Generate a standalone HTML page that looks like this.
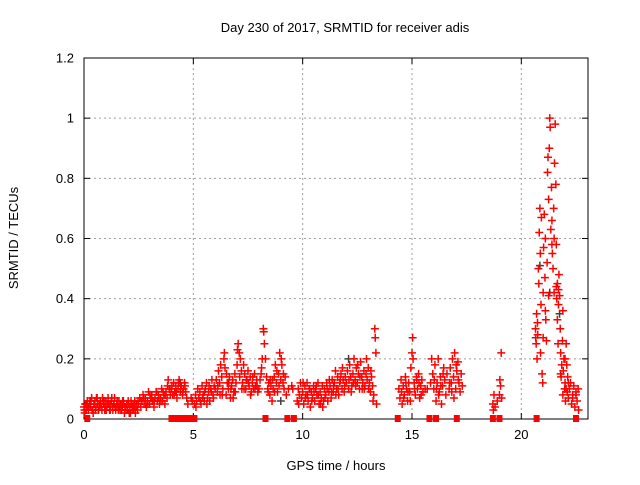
<!DOCTYPE html>
<html><head><meta charset="utf-8"><style>
body{margin:0;background:#fff;}
svg text{font-family:"Liberation Sans",sans-serif;font-size:13px;fill:#000;}
</style></head><body>
<svg id="chart" width="640" height="480" viewBox="0 0 640 480" xmlns="http://www.w3.org/2000/svg">
<rect width="640" height="480" fill="#fff"/>
<text x="345" y="32" text-anchor="middle">Day 230 of 2017, SRMTID for receiver adis</text>
<text x="336" y="470" text-anchor="middle">GPS time / hours</text>
<text transform="translate(18,238) rotate(-90)" text-anchor="middle">SRMTID / TECUs</text>
<g id="grid"></g><g id="axes"></g><g id="marks"></g>
</svg>
<script>
const xTicks=[0,5,10,15,20];
const yTicks=[0,0.2,0.4,0.6,0.8,1,1.2];
const yTickLabels=["0","0.2","0.4","0.6","0.8","1","1.2"];
const redTimes=[0,0.03,0.06,0.1,0.15,0.2,0.25,0.3,0.35,0.4,0.45,0.5,0.55,0.6,0.65,0.7,0.75,0.8,0.85,0.9,0.95,1.0,1.05,1.1,1.15,1.2,1.25,1.3,1.35,1.4,1.45,1.5,1.55,1.6,1.65,1.7,1.75,1.8,1.85,1.9,1.95,2.0,2.05,2.1,2.15,2.2,2.25,2.3,2.35,2.4,2.45,
0.02,0.12,0.22,0.32,0.42,0.52,0.62,0.72,0.82,0.92,1.02,1.12,1.22,1.32,1.42,1.52,1.62,1.72,1.82,1.92,2.02,2.12,2.22,2.32,2.42,
0.07,0.17,0.27,0.37,0.47,0.57,0.67,0.77,0.87,0.97,1.07,1.17,1.27,1.37,1.47,1.57,1.67,1.77,1.87,1.97,2.07,2.17,2.27,2.37,2.47,
2.5,2.55,2.6,2.65,2.7,2.75,2.8,2.85,2.9,2.95,3.0,3.05,3.1,3.15,3.2,3.25,3.3,3.35,3.4,3.45,3.5,3.55,3.6,3.65,3.7,3.75,3.8,3.85,3.9,3.95,2.62,2.82,3.02,3.22,3.42,3.62,3.82,2.72,2.92,3.12,3.32,3.52,3.72,3.92,
4.0,4.05,4.1,4.15,4.2,4.25,4.3,4.35,4.4,4.45,4.5,4.55,4.6,4.65,4.7,4.75,4.9,4.95,4.02,4.22,4.42,4.62,4.12,4.32,4.52,
5.05,5.1,5.15,5.2,5.25,5.3,5.35,5.4,5.45,5.5,5.55,5.6,5.65,5.7,5.75,5.8,5.85,5.9,5.95,5.12,5.32,5.52,5.72,5.92,5.42,5.62,5.82,
6.0,6.05,6.1,6.15,6.2,6.25,6.3,6.35,6.4,6.45,6.5,6.55,6.6,6.65,6.7,6.75,6.8,6.85,6.9,6.95,7.0,7.05,7.1,7.15,7.2,7.25,7.3,7.35,7.4,7.45,7.5,7.55,7.6,7.65,7.7,7.75,7.8,7.85,7.9,7.95,6.12,6.32,6.52,6.72,6.92,7.12,7.32,7.52,7.72,7.92,6.42,7.02,6.22,6.62,6.82,7.22,7.42,7.62,7.82,
8.0,8.05,8.1,8.15,8.2,8.22,8.25,8.3,8.35,8.4,8.45,8.5,8.55,8.6,8.65,8.7,8.75,8.8,8.85,8.9,8.95,9.0,9.05,9.1,9.15,9.2,9.25,9.35,9.5,9.55,8.12,8.42,8.62,8.82,9.02,9.12,8.52,8.72,8.92,
9.75,9.8,9.85,9.9,9.95,10.0,10.05,10.1,10.15,10.2,10.25,10.3,10.35,10.4,10.45,10.5,10.55,10.6,10.65,10.7,10.75,10.8,10.85,10.9,10.95,11.0,11.05,11.1,11.15,11.2,11.25,11.3,11.35,11.4,11.45,11.5,11.55,11.6,11.65,11.7,11.75,11.8,11.85,11.9,11.95,9.82,10.02,10.22,10.42,10.62,10.82,11.02,11.22,11.42,11.62,11.82,10.12,10.32,10.52,10.72,10.92,11.12,11.32,11.52,11.72,11.92,
12.0,12.05,12.1,12.15,12.2,12.25,12.3,12.35,12.4,12.45,12.5,12.55,12.6,12.65,12.7,12.75,12.8,12.85,12.9,12.95,13.0,13.05,13.1,13.15,13.2,13.25,13.3,13.32,13.35,13.38,12.12,12.32,12.52,12.72,12.92,13.12,13.22,12.22,12.42,12.62,12.82,13.02,
14.4,14.45,14.5,14.55,14.6,14.65,14.7,14.75,14.8,14.85,14.9,14.95,15.0,15.03,15.05,15.1,15.15,15.2,15.25,15.3,15.35,15.4,15.45,15.5,15.6,15.7,15.85,15.9,15.95,16.0,16.05,16.1,16.15,16.2,16.25,16.3,16.35,16.4,16.45,16.5,16.55,16.6,16.7,16.75,16.8,16.85,16.9,16.95,17.0,17.05,17.1,17.15,17.2,17.25,17.3,14.52,14.72,14.92,15.12,15.32,16.02,16.22,16.42,16.82,17.02,14.62,14.82,15.22,15.42,16.12,16.32,16.72,16.92,17.12,
18.7,18.75,18.72,18.8,18.9,19.0,19.05,19.02,19.08,19.1,
20.65,20.68,20.7,20.72,20.75,20.78,20.8,20.82,20.85,20.87,20.9,20.92,20.95,20.98,21.0,21.02,21.05,21.08,21.1,21.12,21.15,21.18,21.2,21.22,21.25,21.28,21.3,21.32,21.35,21.38,21.4,21.42,21.45,21.48,21.5,21.52,21.55,21.58,21.6,21.62,21.65,21.68,21.7,21.72,21.75,21.78,21.8,21.82,21.85,21.88,21.9,21.92,21.95,21.98,22.0,22.02,22.05,22.08,22.1,22.12,22.15,22.2,22.25,22.3,22.35,22.4,22.45,22.5,22.55,22.6,22.62,20.88,21.0,21.1,21.25,21.4,21.6,21.7,21.9,22.0,20.66,20.74,21.5,21.65,21.8,22.05,22.15,22.35,22.5];
const redValues=[.04,.02,.05,.03,.06,.03,.05,.04,.07,.03,.05,.06,.04,.07,.03,.05,.06,.04,.07,.05,.03,.06,.04,.07,.05,.03,.06,.04,.05,.07,.03,.05,.04,.06,.03,.05,.04,.06,.02,.04,.05,.03,.05,.04,.06,.03,.05,.04,.02,.05,.03,
.03,.05,.04,.06,.02,.03,.05,.04,.03,.06,.03,.05,.05,.03,.04,.06,.04,.03,.05,.03,.06,.02,.04,.06,.04,
.05,.04,.06,.03,.05,.07,.03,.05,.06,.04,.05,.03,.07,.05,.04,.03,.05,.06,.04,.05,.02,.05,.03,.04,.06,
.05,.07,.04,.06,.08,.05,.07,.04,.06,.09,.05,.07,.08,.06,.04,.07,.09,.06,.08,.05,.07,.1,.06,.08,.05,.09,.07,.13,.1,.08,.06,.05,.08,.06,.07,.09,.11,.07,.05,.06,.09,.06,.08,.1,
.1,.08,.12,.09,.11,.07,.1,.13,.09,.11,.08,.1,.12,.09,.07,.05,.07,.06,.11,.09,.1,.11,.08,.12,.09,
.05,.08,.06,.1,.07,.09,.05,.11,.08,.06,.1,.12,.07,.09,.06,.1,.13,.08,.11,.04,.06,.09,.11,.07,.07,.05,.09,
.1,.13,.09,.16,.12,.18,.14,.1,.2,.17,.08,.12,.1,.14,.07,.11,.13,.09,.15,.12,.18,.25,.22,.2,.16,.12,.18,.15,.1,.13,.16,.11,.14,.09,.12,.1,.15,.11,.13,.09,.11,.08,.15,.1,.09,.14,.1,.12,.14,.11,.22,.23,.08,.12,.07,.1,.13,.08,.1,
.1,.13,.15,.2,.3,.29,.25,.2,.14,.1,.12,.08,.11,.06,.1,.14,.18,.12,.09,.15,.22,.13,.18,.12,.1,.14,.08,.1,.11,.1,.17,.09,.13,.16,.2,.15,.13,.09,.11,
.06,.1,.08,.12,.07,.09,.05,.11,.08,.12,.06,.1,.04,.09,.07,.11,.06,.1,.08,.12,.05,.09,.07,.11,.06,.1,.08,.12,.06,.09,.11,.07,.13,.09,.12,.16,.1,.14,.08,.12,.15,.1,.13,.09,.14,.05,.12,.08,.06,.11,.05,.07,.13,.11,.1,.17,.07,.1,.09,.08,.04,.1,.09,.08,.13,.11,
.12,.16,.1,.18,.14,.11,.15,.2,.13,.17,.12,.15,.1,.19,.14,.12,.16,.11,.15,.13,.17,.12,.09,.14,.11,.08,.3,.27,.22,.05,.13,.12,.18,.1,.2,.16,.06,.09,.11,.14,.1,.1,
.1,.07,.13,.05,.11,.08,.14,.1,.06,.12,.09,.17,.22,.27,.2,.12,.08,.14,.1,.15,.07,.11,.13,.09,.1,.1,.12,.2,.15,.1,.18,.06,.12,.2,.09,.14,.05,.11,.17,.13,.08,.15,.1,.17,.12,.2,.14,.22,.1,.16,.19,.12,.09,.15,.11,.09,.12,.06,.1,.12,.13,.08,.15,.09,.18,.07,.09,.13,.08,.1,.11,.12,.07,.13,
.05,.08,.03,.04,.06,.08,.11,.13,.22,.07,
.3,.25,.35,.2,.28,.5,.45,.62,.7,.55,.38,.67,.15,.12,.42,.57,.68,.47,.6,.33,.26,.52,.82,.87,.73,.9,1.0,.97,.63,.77,.58,.55,.5,.7,.6,.85,.98,.78,.44,.4,.33,.25,.38,.48,.41,.3,.22,.14,.18,.26,.08,.16,.2,.1,.12,.06,.25,.18,.09,.14,.07,.1,.12,.05,.08,.11,.04,.09,.06,.1,.03,.22,.27,.36,.41,.66,.58,.43,.36,.2,.27,.32,.42,.45,.15,.1,.12,.07,.08];
const grayTimes=[4.4,9.0,12.1,20.85,21.3,21.75,0.1];
const grayValues=[.12,.06,.2,.51,.42,.35,.05];
const gapTimes=[0.15,4.0,4.15,4.3,4.45,4.6,4.75,4.9,5.05,8.3,9.3,9.6,14.35,15.8,16.1,17.05,18.7,19.0,20.7,22.5];

const L=84,R=588,T=58,B=419,XMAX=23.05,YMAX=1.2;
const sx=h=>L+h*(R-L)/XMAX, sy=v=>B-v*(B-T)/YMAX;
const NS="http://www.w3.org/2000/svg";
function mk(tag,parent){const e=document.createElementNS(NS,tag);parent.appendChild(e);return e;}
const grid=document.getElementById('grid'),axes=document.getElementById('axes'),marks=document.getElementById('marks');
yTicks.forEach((v,i)=>{
  const y=sy(v);
  if(v>0&&v<YMAX){const g=mk('line',grid);g.setAttribute('x1',L);g.setAttribute('x2',R);g.setAttribute('y1',y);g.setAttribute('y2',y);g.setAttribute('stroke','#a0a0a0');g.setAttribute('stroke-dasharray','2,3');
  
  }
  const t=mk('text',axes);t.setAttribute('x',L-10);t.setAttribute('y',y+4.5);t.setAttribute('text-anchor','end');t.textContent=yTickLabels[i];
  
  
  const k=mk('line',axes);k.setAttribute('x1',L);k.setAttribute('x2',L+6);k.setAttribute('y1',y);k.setAttribute('y2',y);k.setAttribute('stroke','#000');
  const k2=mk('line',axes);k2.setAttribute('x1',R);k2.setAttribute('x2',R-6);k2.setAttribute('y1',y);k2.setAttribute('y2',y);k2.setAttribute('stroke','#000');
});
xTicks.forEach(h=>{
  const x=sx(h);
  if(h>0){const g=mk('line',grid);g.setAttribute('x1',x);g.setAttribute('x2',x);g.setAttribute('y1',T);g.setAttribute('y2',B);g.setAttribute('stroke','#a0a0a0');g.setAttribute('stroke-dasharray','2,3');
  
  }
  const t=mk('text',axes);t.setAttribute('x',x);t.setAttribute('y',B+20);t.setAttribute('text-anchor','middle');t.textContent=String(h);
  
  
  const k=mk('line',axes);k.setAttribute('x1',x);k.setAttribute('x2',x);k.setAttribute('y1',B);k.setAttribute('y2',B-6);k.setAttribute('stroke','#000');
  const k2=mk('line',axes);k2.setAttribute('x1',x);k2.setAttribute('x2',x);k2.setAttribute('y1',T);k2.setAttribute('y2',T+6);k2.setAttribute('stroke','#000');
});
const fr=mk('rect',axes);fr.setAttribute('x',L);fr.setAttribute('y',T);fr.setAttribute('width',R-L);fr.setAttribute('height',B-T);fr.setAttribute('fill','none');fr.setAttribute('stroke','#000');


function cross(h,v,col,name){
  const x=sx(h),y=sy(v);
  const p=mk('path',marks);p.setAttribute('d',`M${x-4},${y}H${x+4}M${x},${y-4}V${y+4}`);p.setAttribute('stroke',col);p.setAttribute('stroke-width','1.5');
  
  
}
grayTimes.forEach((h,i)=>cross(h,grayValues[i],'#404040','gray-point'));
redTimes.forEach((h,i)=>cross(h,redValues[i],'#ff0000','srmtid-point'));
gapTimes.forEach(h=>{
  const r=mk('rect',marks);r.setAttribute('x',sx(h)-3);r.setAttribute('y',B-4);r.setAttribute('width',6);r.setAttribute('height',7);r.setAttribute('fill','#ff0000');
  
  
});
</script>
</body></html>
